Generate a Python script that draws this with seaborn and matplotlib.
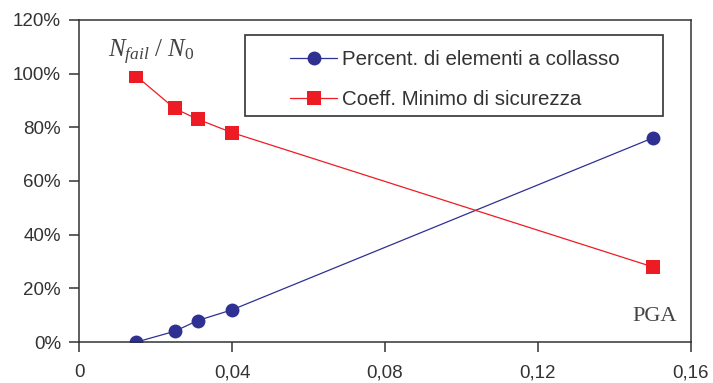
import numpy as np
import pandas as pd
import matplotlib
matplotlib.use('Agg')
import matplotlib.pyplot as plt
from matplotlib.patches import Rectangle
from matplotlib.ticker import FuncFormatter
import seaborn as sns

# dati
pga = [0.015, 0.025, 0.031, 0.04, 0.15]
perc_collasso = [0, 4, 8, 12, 76]
coeff_minimo = [99, 87, 83, 78, 28]
etichette = ['Percent. di elementi a collasso', 'Coeff. Minimo di sicurezza']
x_ticks = [0, 0.04, 0.08, 0.12, 0.16]
y_ticks = [0, 20, 40, 60, 80, 100, 120]

df = pd.DataFrame({
    'PGA': pga * 2,
    'valore': perc_collasso + coeff_minimo,
    'serie': [etichette[0]] * len(pga) + [etichette[1]] * len(pga),
})

sns.set_style('white')
plt.rcParams['font.family'] = ['Liberation Sans', 'DejaVu Sans']
plt.rcParams['mathtext.fontset'] = 'custom'
plt.rcParams['mathtext.rm'] = 'Liberation Serif'
plt.rcParams['mathtext.it'] = 'Liberation Serif:italic'

blu = '#2E3192'
rosso = '#ED1C24'
grigio = '#333333'

fig = plt.figure(figsize=(7.13, 3.83), dpi=100)
ax = fig.add_axes([0.111, 0.107, 0.858, 0.841])

sns.lineplot(data=df, x='PGA', y='valore', hue='serie', style='serie',
             markers={etichette[0]: 'o', etichette[1]: 's'}, dashes=False,
             palette={etichette[0]: blu, etichette[1]: rosso},
             markersize=10, markeredgewidth=0, linewidth=0.9, ax=ax,
             legend=True, zorder=2)

ax.set_xlim(0, 0.16)
ax.set_ylim(0, 120)
ax.set_xticks(x_ticks)
ax.set_yticks(y_ticks)
ax.xaxis.set_major_formatter(FuncFormatter(
    lambda v, p: '0' if v == 0 else f'{v:.2f}'.replace('.', ',')))
ax.yaxis.set_major_formatter(FuncFormatter(lambda v, p: f'{v:.0f}%'))
ax.set_xlabel('')
ax.set_ylabel('')
ax.tick_params(axis='both', direction='out', length=7, width=1.1,
               colors=grigio, labelsize=13.5, bottom=True, left=True)
ax.tick_params(axis='x', pad=9)
ax.tick_params(axis='y', pad=6)
for s in ax.spines.values():
    s.set_color(grigio)
    s.set_linewidth(1.1)

# riquadro della legenda
ax.add_patch(Rectangle((0.271, 0.702), 0.683, 0.251, transform=ax.transAxes,
                       facecolor='white', edgecolor=grigio, lw=1.2, zorder=3))
leg = ax.legend(loc='upper left', bbox_to_anchor=(0.345, 0.907), frameon=False,
                fontsize=14.8, handlelength=2.3, handletextpad=0.2,
                labelspacing=1.05, borderpad=0, borderaxespad=0)
leg.set_zorder(4)
for t in leg.get_texts():
    t.set_color(grigio)

ax.text(0.118, 0.90, r'$N_{fail}\ /\ N_0$', transform=ax.transAxes,
        ha='center', va='center', fontsize=18, color='#444444', zorder=5,
        bbox=dict(facecolor='white', edgecolor='none', pad=3))
ax.text(0.977, 0.08, 'PGA', transform=ax.transAxes, ha='right', va='center',
        fontsize=16, family='Liberation Serif', color='#444444')

plt.savefig('out.png', dpi=100)
